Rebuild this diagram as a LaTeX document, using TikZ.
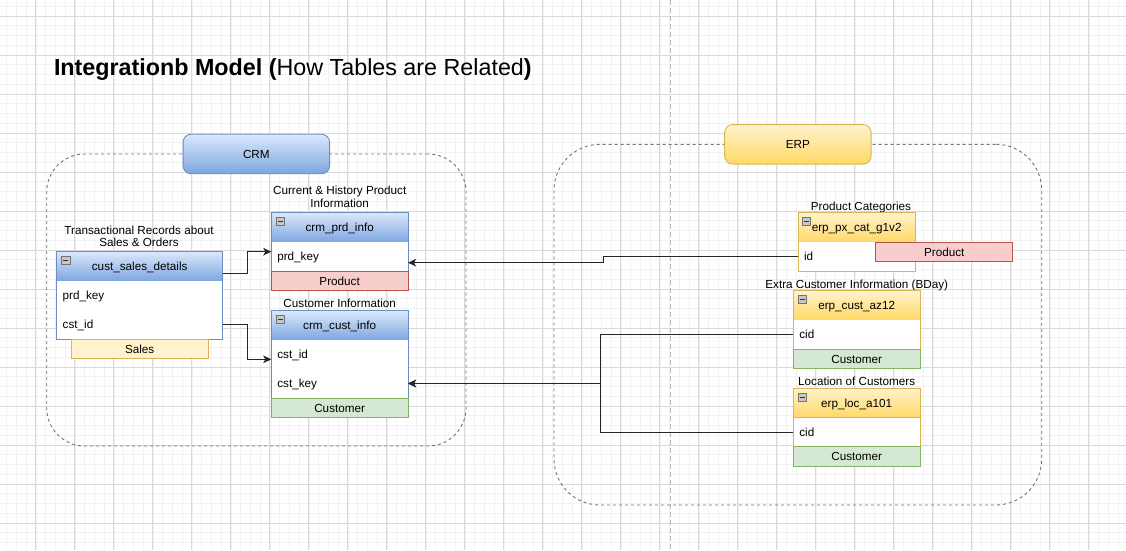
\documentclass[tikz,border=0pt]{standalone}
\usepackage{fontspec}
\setmainfont{Liberation Sans}
\usetikzlibrary{positioning,arrows.meta}

\definecolor{blueTop}{HTML}{DAE8FC}
\definecolor{blueBot}{HTML}{7EA6E0}
\definecolor{blueLine}{HTML}{6C8EBF}
\definecolor{yelTop}{HTML}{FFF2CC}
\definecolor{yelBot}{HTML}{FFD966}
\definecolor{yelLine}{HTML}{D6B656}
\definecolor{redFill}{HTML}{F8CECC}
\definecolor{redLine}{HTML}{B85450}
\definecolor{grnFill}{HTML}{D5E8D4}
\definecolor{grnLine}{HTML}{82B366}

\tikzset{
  every node/.style={font=\fontsize{11.7}{12.3}\selectfont, inner sep=0pt, outer sep=0pt},
  gridminor/.style={draw=black!5, line width=0.7pt},
  gridmajor/.style={draw=black!15, line width=0.8pt},
  groupbox/.style={draw=black!55, dash pattern=on 3pt off 3pt, line width=0.9pt, anchor=north west},
  crmbtn/.style={draw=blueLine, top color=blueTop, bottom color=blueBot, rounded corners=8pt,
    minimum width=146.5pt, minimum height=39.5pt, line width=0.9pt, text height=8.4pt, text depth=0pt},
  erpbtn/.style={crmbtn, draw=yelLine, top color=yelTop, bottom color=yelBot},
  bluehead/.style={draw=blueLine, top color=blueTop, bottom color=blueBot, minimum height=29.3pt,
    anchor=north west, line width=0.9pt, text height=8.4pt, text depth=0pt},
  yelhead/.style={bluehead, draw=yelLine, top color=yelTop, bottom color=yelBot},
  fieldrow/.style={fill=white, minimum height=29pt, align=left, inner xsep=6pt, text height=8.4pt, text depth=0pt},
  blueframe/.style={draw=blueLine, line width=0.9pt},
  yelframe/.style={draw=yelLine, line width=0.9pt},
  redtag/.style={draw=redLine, fill=redFill, minimum height=19.7pt, line width=0.9pt, text height=8.4pt, text depth=0pt},
  grntag/.style={redtag, draw=grnLine, fill=grnFill},
  saletag/.style={redtag, draw=yelLine, fill=yelTop},
  caption/.style={align=center},
  iconbox/.style={draw=black!55, fill=black!22, minimum size=8.3pt, line width=0.6pt,
    path picture={\draw[black!80, line width=1.1pt] ([xshift=1.6pt]path picture bounding box.west)
      -- ([xshift=-1.6pt]path picture bounding box.east);}},
  link/.style={draw=black!85, line width=1.2pt, -{Stealth[length=8pt,width=7.5pt,inset=2pt]}}
}

\begin{document}
\begin{tikzpicture}[x=1pt,y=-1pt]
\useasboundingbox (0,0) rectangle (1126,550);
\fill[white] (0,0) rectangle (1126,550);

% grid
\foreach \gx in {0,...,115} \draw[gridminor] ({6.7+9.75*\gx},0) -- ({6.7+9.75*\gx},550);
\foreach \gy in {0,...,56} \draw[gridminor] (0,{6.25+9.75*\gy}) -- (1126,{6.25+9.75*\gy});
\foreach \gx in {0,...,29} \draw[gridmajor] ({-3.3+39*\gx},0) -- ({-3.3+39*\gx},550);
\foreach \gy in {0,...,13} \draw[gridmajor] (0,{16+39*\gy}) -- (1126,{16+39*\gy});
\draw[black!28, line width=1pt, dash pattern=on 5pt off 3pt] (670.7,0) -- (670.7,550);

% title
\node[anchor=base west, font=\fontsize{23.3}{26}\selectfont] (title) at (54,75)
  {\textbf{Integrationb Model (}How Tables are Related\textbf{)}};

% groups
\node[groupbox, rounded corners=38pt, minimum width=419.3pt, minimum height=292pt] (crm) at (46.7,154) {};
\node[crmbtn] (crmlabel) at (crm.north) {CRM};
\node[groupbox, rounded corners=46pt, minimum width=487.7pt, minimum height=360.7pt] (erp) at (554,144.3) {};
\node[erpbtn] (erplabel) at (erp.north) {ERP};

% crm_prd_info
\node[caption] (prdcap) at (339.7,196.9) {Current \& History Product\\Information};
\node[bluehead, minimum width=136.7pt] (prdhead) at (271.3,212.7) {crm\_prd\_info};
\node[iconbox] (prdicon) at ([xshift=9.2pt,yshift=-8.8pt]prdhead.north west) {};
\node[fieldrow, text width=124.7pt, below=0pt of prdhead] (prdrow) {prd\_key};
\draw[blueframe] (prdhead.north west) rectangle (prdrow.south east);
\node[redtag, minimum width=136.7pt, below=0pt of prdrow] (prdtag) {Product};

% cust_sales_details
\node[caption] (csdcap) at (139,236) {Transactional Records about\\Sales \& Orders};
\node[bluehead, minimum width=166pt] (csdhead) at (56.7,251.7) {cust\_sales\_details};
\node[iconbox] (csdicon) at ([xshift=9.2pt,yshift=-8.8pt]csdhead.north west) {};
\node[fieldrow, text width=154pt, below=0pt of csdhead] (csdprd) {prd\_key};
\node[fieldrow, text width=154pt, below=0pt of csdprd] (csdcst) {cst\_id};
\draw[blueframe] (csdhead.north west) rectangle (csdcst.south east);
\node[saletag, minimum width=137.4pt, below=0pt of csdcst] (csdtag) {Sales};

% crm_cust_info
\node[caption, text depth=0pt] (custcap) at (339.7,303.7) {Customer Information};
\node[bluehead, minimum width=136.7pt] (custhead) at (271.3,310.7) {crm\_cust\_info};
\node[iconbox] (custicon) at ([xshift=9.2pt,yshift=-8.8pt]custhead.north west) {};
\node[fieldrow, text width=124.7pt, below=0pt of custhead] (custid) {cst\_id};
\node[fieldrow, text width=124.7pt, below=0pt of custid] (custkey) {cst\_key};
\draw[blueframe] (custhead.north west) rectangle (custkey.south east);
\node[grntag, minimum width=136.7pt, below=0pt of custkey] (custtag) {Customer};

% erp_px_cat_g1v2
\node[caption, text depth=0pt] (pxcap) at (861,206.7) {Product Categories};
\node[yelhead, minimum width=117.3pt] (pxhead) at (798,212.7) {erp\_px\_cat\_g1v2};
\node[iconbox] (pxicon) at ([xshift=8.5pt,yshift=-8.8pt]pxhead.north west) {};
\node[fieldrow, text width=105.3pt, below=0pt of pxhead] (pxid) {id};
\draw[yelframe] (pxhead.north west) rectangle (pxid.south east);
\node[redtag, minimum width=137pt, anchor=north west] (pxtag) at (875.7,242) {Product};

% erp_cust_az12
\node[caption, text depth=0pt] (az12cap) at (856.7,284.7) {Extra Customer Information (BDay)};
\node[yelhead, minimum width=126.7pt] (az12head) at (793.3,290.7) {erp\_cust\_az12};
\node[iconbox] (az12icon) at ([xshift=9.2pt,yshift=-8.8pt]az12head.north west) {};
\node[fieldrow, text width=114.7pt, below=0pt of az12head] (az12cid) {cid};
\draw[yelframe] (az12head.north west) rectangle (az12cid.south east);
\node[grntag, minimum width=126.7pt, below=0pt of az12cid] (az12tag) {Customer};

% erp_loc_a101
\node[caption, text depth=0pt] (a101cap) at (856.7,381.7) {Location of Customers};
\node[yelhead, minimum width=126.7pt] (a101head) at (793.3,388.3) {erp\_loc\_a101};
\node[iconbox] (a101icon) at ([xshift=9.2pt,yshift=-8.8pt]a101head.north west) {};
\node[fieldrow, text width=114.7pt, below=0pt of a101head] (a101cid) {cid};
\draw[yelframe] (a101head.north west) rectangle (a101cid.south east);
\node[grntag, minimum width=126.7pt, below=0pt of a101cid] (a101tag) {Customer};

% relations
\draw[link] ([yshift=-7.2pt]csdhead.east) -- ++(24.6,0) |- ([yshift=4.8pt]prdrow.west);
\draw[link] (csdcst.east) -- ++(24.6,0) |- ([yshift=-4.8pt]custid.west);
\draw[link] (pxid.west) -- ++(-194.7,0) |- ([yshift=-6.2pt]prdrow.east);
\draw[link] (az12cid.west) -- ++(-193,0) |- (custkey.east);
\draw[link] (a101cid.west) -- ++(-193,0) |- (custkey.east);
\end{tikzpicture}
\end{document}
